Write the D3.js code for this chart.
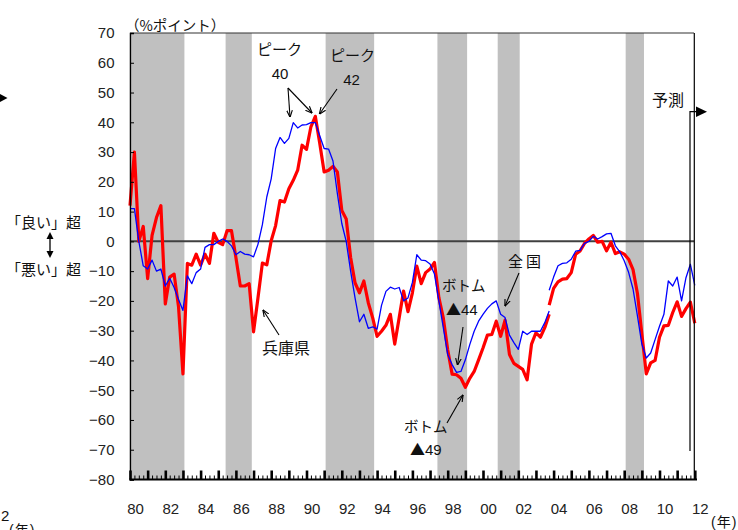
<!DOCTYPE html>
<html><head><meta charset="utf-8">
<script src="https://cdn.jsdelivr.net/npm/d3@7"></script>
<style>body{margin:0;background:#fff;} svg{display:block;}</style>
</head><body>
<svg id="c" width="738" height="530"></svg>
<script>
// ---- data (quarterly, 1980Q1 .. 2012Q1) ----
const startYear = 1980;
// Hyogo (old basis, 1980Q1 .. 2003Q4)
const hyogoOld = [
  12, 30, 0, 5, -12.5, 2, 8, 12,
  -21, -12, -11, -22, -44.5, -7.4, -8, -4.3,
  -8, -4.3, -7.4, 2.7, -0.3, -1.1, 3.6, 3.6,
  -5.4, -15, -15, -14.2, -30.4, -19, -7.3, -7.9,
  0.2, 5.3, 13.7, 13.2, 17.7, 20.5, 23.9, 32.3,
  30.9, 38.5, 42, 33, 23.3, 23.9, 25.2, 23.3,
  10.4, 7.5, -5.4, -13.9, -17.3, -13.3, -20.6, -25.7,
  -31.9, -30.2, -28.2, -24.5, -34.5, -25.7, -16.7, -23.6,
  -17.3, -8.3, -14.2, -10.5, -9.3, -7.1, -18.9, -25.7,
  -36.4, -44.6, -44.8, -46, -49, -46, -43.7, -39.8,
  -35.8, -31.5, -31.3, -26.8, -31.9, -26.5, -38, -41,
  -42, -43, -46.5, -34.5, -30.7, -32.2, -29, -24.5
];
// Hyogo (new basis, 2003Q4 .. 2012Q1)
const hyogoNew = [
  -21.4, -15.8, -13.6, -12.7, -12.5, -10.5, -4.3, -3.2,
  -0.7, 0.8, 2.0, -0.3, 0, -3.2, -0.3, -4.1,
  -3.5, -4.3, -6, -9.5, -17.5, -31, -44.5, -40.8,
  -40, -32.2, -28.4, -28.2, -23.9, -20.3, -25.2, -22.6,
  -20.4, -27.5
];
// National (old basis)
const nationalOld = [
  11, 11, 0, -8.2, -9.3, -6.3, -10, -9.3,
  -15, -12.4, -15.5, -19.5, -23.2, -11.6, -14.2, -10.5,
  -9.3, -2, -1.1, -1.1, 0, 0.8, 0, -1.5,
  -4.5, -3.4, -4.3, -4.5, -5.2, -1, 5.6, 14.9,
  21, 31.2, 34.9, 32.9, 34.6, 39.9, 38.1, 39.1,
  39.2, 39.9, 39.9, 35.5, 31.2, 31, 27, 16,
  6, 0, -10, -19, -27, -24.5, -29.2, -28.7,
  -29.5, -21.5, -16.8, -15.4, -16, -15.5, -20, -19,
  -13.8, -4.5, -6.3, -6.5, -7.6, -11, -20, -29,
  -38, -41.4, -44, -43.7, -39.8, -34.7, -30.2, -26.8,
  -24.5, -22.5, -21, -20, -24.5, -25.6, -31.5, -34,
  -36.3, -30.2, -31.3, -30.2, -30.2, -30.2, -27.3, -23.4
];
// National (new basis)
const nationalNew = [
  -16.4, -12, -8.2, -7.4, -7.2, -6, -3.3, -3,
  -0.7, 0, 1.7, 0.8, 1.6, 2.5, 2.7, -1.5,
  -3.5, -6.5, -10.4, -16, -25, -34.5, -39.2, -37.5,
  -33, -28.5, -24.5, -13.3, -15, -12, -20, -12.2,
  -7.7, -14.8
];
const newBasisStartIndex = 95;   // quarter index where new basis begins (2003Q4)
const yTicks = [70, 60, 50, 40, 30, 20, 10, 0, -10, -20, -30, -40, -50, -60, -70, -80];
const xLabelYears = [1980, 1982, 1984, 1986, 1988, 1990, 1992, 1994, 1996, 1998, 2000, 2002, 2004, 2006, 2008, 2010, 2012];
const xTickLabels = ["80","82","84","86","88","90","92","94","96","98","00","02","04","06","08","10","12"];
const recessions = [[1980.083, 1983.083], [1985.417, 1986.9], [1991.083, 1993.833], [1997.417, 1999.1], [2000.833, 2002.08], [2008.083, 2009.12]];

// ---- drawing ----
const svg = d3.select("#c");
const L = 130, R = 694.8, T = 33, B = 479.5;
const x = d3.scaleLinear().domain([1980, 2012]).range([L, R]);
const y = d3.scaleLinear().domain([-80, 70]).range([B, T]);
const qYear = i => startYear + i / 4;
const numFont = "'Liberation Sans', Arial, sans-serif";
const jpFont = "'Noto Sans CJK JP', 'Noto Sans', sans-serif";

// recession bands
svg.append("g").selectAll("rect").data(recessions).join("rect")
  .attr("x", d => x(d[0])).attr("width", d => x(d[1]) - x(d[0]))
  .attr("y", T).attr("height", B - T).attr("fill", "#c0c0c0");

// zero line
svg.append("line").attr("x1", L).attr("x2", 694).attr("y1", y(0)).attr("y2", y(0))
  .attr("stroke", "#404040").attr("stroke-width", 2);

// series
const lineGen = offset => d3.line().x((d, i) => x(qYear(i + offset))).y(d => y(d));
function drawSeries(vals, offset, color, w) {
  svg.append("path").datum(vals).attr("d", lineGen(offset))
    .attr("fill", "none").attr("stroke", color).attr("stroke-width", w)
    .attr("stroke-linejoin", "round");
}
drawSeries(hyogoOld, 0, "#ff0000", 3.2);
drawSeries(hyogoNew, newBasisStartIndex, "#ff0000", 3.2);
drawSeries(nationalOld, 0, "#0000ff", 1.3);
drawSeries(nationalNew, newBasisStartIndex, "#0000ff", 1.3);

// frame (top, right)
svg.append("line").attr("x1", L).attr("x2", 694).attr("y1", T).attr("y2", T).attr("stroke", "#333").attr("stroke-width", 1.2);
svg.append("line").attr("x1", 694.3).attr("x2", 694.3).attr("y1", T).attr("y2", B).attr("stroke", "#000").attr("stroke-width", 1.2);

// y axis
const yAxis = d3.axisLeft(y).tickValues(yTicks).tickSize(-4).tickPadding(16)
  .tickFormat(d => d < 0 ? "\u2212" + Math.abs(d) : d);
const gy = svg.append("g").attr("transform", `translate(${L},0)`).call(yAxis);
gy.select(".domain").attr("stroke", "#000").attr("stroke-width", 1.5);
gy.selectAll(".tick line").attr("stroke", "#000");
gy.selectAll("text").attr("font-family", numFont).attr("font-size", 15).attr("fill", "#222").attr("x", -15.5);

// x axis: minor (quarterly) ticks, major (yearly) ticks
const quarters = d3.range(0, 129).map(qYear);
const years = d3.range(1980, 2013);
const gxMinor = svg.append("g").attr("transform", `translate(0,${B})`)
  .call(d3.axisBottom(x).tickValues(quarters).tickSize(-4).tickFormat(""));
gxMinor.selectAll(".tick line").attr("stroke", "#000").attr("stroke-width", 1);
gxMinor.select(".domain").remove();
const gxMajor = svg.append("g").attr("transform", `translate(0,${B})`)
  .call(d3.axisBottom(x).tickValues(years).tickSize(-9).tickFormat(""));
gxMajor.selectAll(".tick line").attr("stroke", "#000").attr("stroke-width", 2.6);
gxMajor.select(".domain").remove();
svg.append("line").attr("x1", L - 0.7).attr("x2", 697).attr("y1", B).attr("y2", B).attr("stroke", "#000").attr("stroke-width", 2.2);

// x labels
const gxLab = svg.append("g").attr("transform", `translate(0,${B})`)
  .call(d3.axisBottom(x).tickValues(xLabelYears).tickSize(0).tickFormat((d, i) => xTickLabels[i]));
gxLab.select(".domain").remove();
gxLab.selectAll("text").attr("font-family", numFont).attr("font-size", 15).attr("fill", "#222")
  .attr("dx", 5).attr("y", 34).attr("dy", 0);

// texts
function txt(t, px, py, size, opts = {}) {
  return svg.append("text").attr("x", px).attr("y", py).text(t)
    .attr("font-family", opts.font || jpFont).attr("font-size", size).attr("fill", "#111")
    .attr("text-anchor", opts.anchor || "start").attr("letter-spacing", opts.ls || 0);
}
function triNum(t, px, py) {
  const e = svg.append("text").attr("x", px).attr("y", py).attr("fill", "#111");
  e.append("tspan").text("▲").attr("font-family", jpFont).attr("font-size", 15);
  e.append("tspan").text(t).attr("font-family", numFont).attr("font-size", 15);
}
function yearUnit(px, py) {
  const e = svg.append("text").attr("x", px).attr("y", py).attr("fill", "#111").attr("font-size", 14);
  e.append("tspan").text("(").attr("font-family", numFont);
  e.append("tspan").text("年").attr("font-family", jpFont).attr("dx", 1);
  e.append("tspan").text(")").attr("font-family", numFont).attr("dx", 1);
}
txt("（%ポイント）", 125, 31, 14.5);
txt("「良い」超", 6, 228, 15);
txt("「悪い」超", 6, 275, 15);
yearUnit(711, 527);
yearUnit(9, 535);
txt("2", 1, 521, 15, {font: numFont});
txt("予測", 652, 106, 16);
txt("ピーク", 257, 55, 15);
txt("40", 280, 78.5, 15, {font: numFont, anchor: "middle"});
txt("ピーク", 330, 60.5, 15);
txt("42", 351.5, 84.5, 15, {font: numFont, anchor: "middle"});
txt("兵庫県", 262, 354, 16);
txt("ボトム", 442, 291, 14.5);
triNum("44", 446, 315);
txt("全国", 508, 267, 15, {ls: 3});
txt("ボトム", 404, 432, 14.5);
triNum("49", 410, 455);

// arrows
const defs = svg.append("defs");
defs.append("marker").attr("id", "ah").attr("viewBox", "0 0 10 10").attr("refX", 9.5).attr("refY", 5)
  .attr("markerWidth", 7).attr("markerHeight", 7).attr("orient", "auto").attr("markerUnits", "userSpaceOnUse")
  .append("path").attr("d", "M0,1 L10,5 L0,9").attr("fill", "none").attr("stroke", "#000").attr("stroke-width", 1.6);
function arrow(x1, y1, x2, y2) {
  svg.append("line").attr("x1", x1).attr("y1", y1).attr("x2", x2).attr("y2", y2)
    .attr("stroke", "#000").attr("stroke-width", 1.1).attr("marker-end", "url(#ah)");
}
arrow(288, 88, 290, 117);
arrow(288, 88, 312, 113);
arrow(337, 89, 319.5, 114);
arrow(279, 335, 263, 310);
arrow(463, 327, 457.5, 365);
arrow(519, 273, 505, 306);
arrow(447, 423, 463, 395);

// prediction bracket arrow
svg.append("path").attr("d", "M690,451 V111.7 H697").attr("fill", "none").attr("stroke", "#000").attr("stroke-width", 1.2);
svg.append("path").attr("d", "M696,106.5 L707,111.7 L696,117 Z").attr("fill", "#000");

// left double arrow
svg.append("line").attr("x1", 50).attr("x2", 50).attr("y1", 237).attr("y2", 253).attr("stroke", "#000").attr("stroke-width", 1.3);
svg.append("path").attr("d", "M46.5,239 L50,232 L53.5,239 Z").attr("fill", "#000");
svg.append("path").attr("d", "M46.5,251 L50,258 L53.5,251 Z").attr("fill", "#000");

// cropped arrowhead at far left
svg.append("path").attr("d", "M0,94 L7.5,98 L0,102 Z").attr("fill", "#000");
</script>
</body></html>
